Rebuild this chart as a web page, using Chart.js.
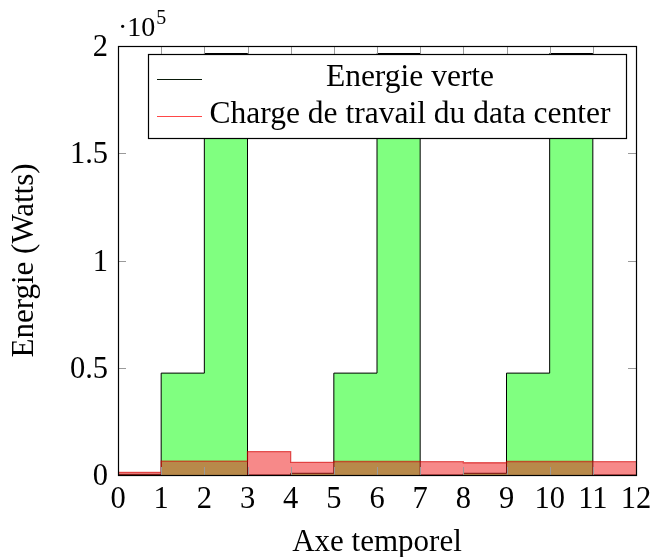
<!DOCTYPE html>
<html>
<head>
<meta charset="utf-8">
<script src="https://cdn.jsdelivr.net/npm/chart.js@4"></script>
<style>
html,body{margin:0;padding:0;background:#fff;}
#c{display:block;}
</style>
</head>
<body>
<canvas id="c" width="653" height="557"></canvas>
<script>
// Time axis (steps) 0..12, step-constant values
const timeSteps = [0,1,2,3,4,5,6,7,8,9,10,11,12];
const greenEnergy = [300, 47500, 196500, 0, 800, 47500, 196500, 0, 800, 47500, 196500, 0, 0];
const dcWorkload = [1250, 6500, 6500, 10900, 5900, 6300, 6300, 6200, 5700, 6300, 6300, 6200, 6200];
const seriesNames = ['Energie verte', 'Charge de travail du data center'];
const xTicks = [0,1,2,3,4,5,6,7,8,9,10,11,12];
const xTickLabels = ['0','1','2','3','4','5','6','7','8','9','10','11','12'];
const yTicks = [0, 50000, 100000, 150000, 200000];
const yTickLabels = ['0', '0.5', '1', '1.5', '2'];
const xTitle = 'Axe temporel';
const yTitle = 'Energie (Watts)';

const SERIF = "'Liberation Serif', 'Times New Roman', serif";

const framePlugin = {
  id: 'frame',
  afterDraw(chart) {
    const {ctx, chartArea: a, scales: {x, y}} = chart;
    ctx.save();
    ctx.strokeStyle = '#9a9a9a';
    ctx.lineWidth = 1;
    const tl = 8;
    xTicks.forEach(v => {
      const px = Math.round(x.getPixelForValue(v)) + 0.5;
      ctx.beginPath();
      ctx.moveTo(px, a.bottom); ctx.lineTo(px, a.bottom - tl);
      ctx.moveTo(px, a.top); ctx.lineTo(px, a.top + tl);
      ctx.stroke();
    });
    yTicks.forEach(v => {
      const py = Math.round(y.getPixelForValue(v)) + 0.5;
      ctx.beginPath();
      ctx.moveTo(a.left, py); ctx.lineTo(a.left + tl, py);
      ctx.moveTo(a.right, py); ctx.lineTo(a.right - tl, py);
      ctx.stroke();
    });
    ctx.strokeStyle = '#000';
    ctx.lineWidth = 1.2;
    ctx.strokeRect(Math.round(a.left)+0.5, Math.round(a.top)+0.5, Math.round(a.right - a.left), Math.round(a.bottom - a.top));

    // legend
    const lx = 148, ly = 54, lw = 478, lh = 84;
    ctx.fillStyle = '#fff';
    ctx.fillRect(lx, ly, lw, lh);
    ctx.strokeStyle = '#000';
    ctx.lineWidth = 1.2;
    ctx.strokeRect(lx + 0.5, ly + 0.5, lw, lh);
    const rows = [
      {y: 79, color: '#0a1a0a', text: seriesNames[0], base: 86},
      {y: 116, color: 'rgba(255,40,40,0.85)', text: seriesNames[1], base: 123}
    ];
    ctx.font = '31.5px ' + SERIF;
    ctx.textAlign = 'center';
    ctx.textBaseline = 'alphabetic';
    rows.forEach(r => {
      ctx.strokeStyle = r.color;
      ctx.lineWidth = 1;
      ctx.beginPath();
      ctx.moveTo(157, r.y + 0.5); ctx.lineTo(202, r.y + 0.5);
      ctx.stroke();
      ctx.fillStyle = '#000';
      ctx.fillText(r.text, 410, r.base);
    });

    // multiplier label
    ctx.fillStyle = '#000';
    ctx.textAlign = 'left';
    ctx.font = '28px ' + SERIF;
    ctx.fillText('\u00b710', 118, 36);
    const w = ctx.measureText('\u00b710').width;
    ctx.font = '20px ' + SERIF;
    ctx.fillText('5', 118 + w + 1, 24);

    // tick labels
    ctx.font = '30.5px ' + SERIF;
    ctx.textAlign = 'center';
    xTicks.forEach((v, i) => {
      ctx.fillText(xTickLabels[i], x.getPixelForValue(v), a.bottom + 33);
    });
    ctx.textAlign = 'right';
    yTicks.forEach((v, i) => {
      ctx.fillText(yTickLabels[i], a.left - 10, y.getPixelForValue(v) + 10);
    });

    // axis titles
    ctx.font = '31px ' + SERIF;
    ctx.textAlign = 'center';
    ctx.fillText(xTitle, (a.left + a.right) / 2, 551);
    ctx.save();
    ctx.translate(33, (a.top + a.bottom) / 2);
    ctx.rotate(-Math.PI / 2);
    ctx.fillText(yTitle, 0, 0);
    ctx.restore();
    ctx.restore();
  }
};

new Chart(document.getElementById('c'), {
  type: 'line',
  data: {
    datasets: [
      {
        label: seriesNames[1],
        data: timeSteps.map((t, i) => ({x: t, y: dcWorkload[i]})),
        stepped: 'before',
        fill: 'origin',
        backgroundColor: 'rgba(240,20,20,0.5)',
        borderColor: 'rgba(210,0,0,0.6)',
        borderWidth: 1.3,
        pointRadius: 0,
        order: 0
      },
      {
        label: seriesNames[0],
        data: timeSteps.map((t, i) => ({x: t, y: greenEnergy[i]})),
        stepped: 'before',
        fill: 'origin',
        backgroundColor: '#80ff80',
        borderColor: '#000',
        borderWidth: 1,
        pointRadius: 0,
        order: 1
      }
    ]
  },
  options: {
    responsive: false,
    animation: false,
    layout: {padding: {left: 0, right: 17, top: 46, bottom: 0}},
    plugins: {legend: {display: false}, tooltip: {enabled: false}},
    scales: {
      x: {
        type: 'linear', min: 0, max: 12,
        afterBuildTicks: s => { s.ticks = xTicks.map(v => ({value: v})); },
        afterFit: s => { s.height = 82; },
        grid: {display: false, drawTicks: false},
        border: {display: false},
        ticks: {display: false}
      },
      y: {
        min: 0, max: 200000,
        afterBuildTicks: s => { s.ticks = yTicks.map(v => ({value: v})); },
        afterFit: s => { s.width = 118; },
        grid: {display: false, drawTicks: false},
        border: {display: false},
        ticks: {display: false}
      }
    }
  },
  plugins: [framePlugin]
});
</script>
</body>
</html>
